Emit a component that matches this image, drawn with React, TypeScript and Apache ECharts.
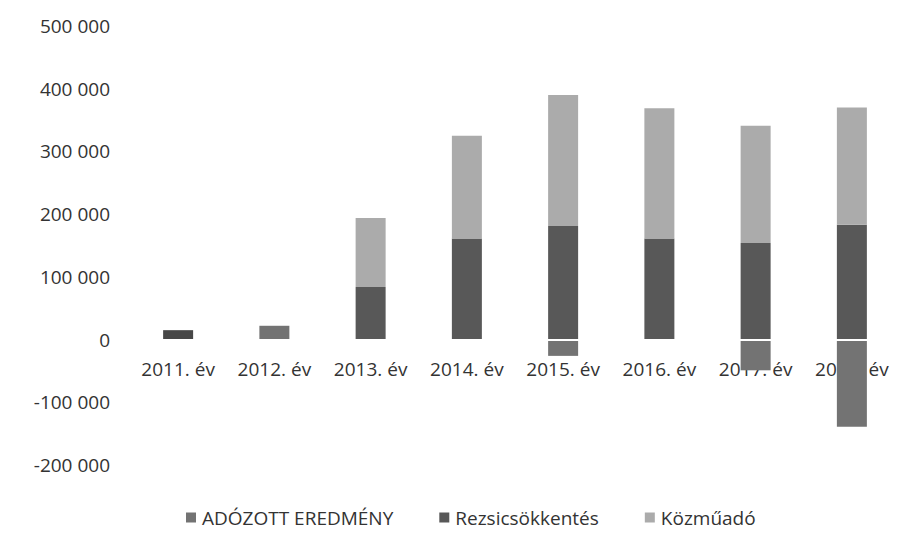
import React, { useEffect, useRef } from "react";
import * as echarts from "echarts";

const categories = ["2011. év", "2012. év", "2013. év", "2014. év", "2015. év", "2016. év", "2017. év", "2018. év"];
const adozottEredmeny = [15000, 22000, 0, 0, -26000, 0, -49000, -139000];
const rezsicsokkentes = [0, 0, 84000, 161000, 181000, 161000, 154000, 183000];
const kozmuado = [0, 0, 110000, 164000, 209000, 208000, 187000, 187000];
const yTicks = { min: -200000, max: 500000, interval: 100000 };

const FONT = "'Open Sans', 'Noto Sans', sans-serif";
const TEXT = "#333333";
const GRID_TOP = 26;
const GRID_BOTTOM = 79;
const CHART_H = 544;

function fmt(v: number): string {
  const s = Math.abs(v).toString().replace(/\B(?=(\d{3})+(?!\d))/g, " ");
  return (v < 0 ? "-" : "") + s;
}

export default function App() {
  const ref = useRef<HTMLDivElement>(null);
  useEffect(() => {
    if (!ref.current) return;
    const chart = echarts.init(ref.current, undefined, { renderer: "svg" });
    // place the category axis on the zero line of the value axis
    const plotH = CHART_H - GRID_TOP - GRID_BOTTOM;
    const zeroFromBottom = ((0 - yTicks.min) / (yTicks.max - yTicks.min)) * plotH;
    chart.setOption({
      animation: false,
      backgroundColor: "#ffffff",
      textStyle: { fontFamily: FONT },
      grid: { left: 130, right: 16, top: GRID_TOP, bottom: GRID_BOTTOM, containLabel: false },
      legend: {
        left: 181,
        top: 503,
        itemWidth: 10,
        itemHeight: 10,
        itemGap: 46,
        icon: "rect",
        textStyle: { fontFamily: FONT, fontSize: 19, color: TEXT, padding: [0, 0, 0, 1] },
        data: ["ADÓZOTT EREDMÉNY", "Rezsicsökkentés", "Közműadó"],
      },
      xAxis: {
        type: "category",
        data: categories,
        offset: -zeroFromBottom,
        axisLine: { show: false, onZero: false },
        axisTick: { show: false },
        axisLabel: { fontFamily: FONT, fontSize: 19, color: TEXT, margin: 20, interval: 0 },
        z: 0,
      },
      yAxis: {
        type: "value",
        min: yTicks.min,
        max: yTicks.max,
        interval: yTicks.interval,
        axisLine: { show: false },
        axisTick: { show: false },
        splitLine: { show: false },
        axisLabel: {
          fontFamily: FONT,
          fontSize: 19,
          color: TEXT,
          margin: 20,
          formatter: (v: number) => fmt(v),
        },
      },
      series: [
        {
          name: "ADÓZOTT EREDMÉNY",
          type: "bar",
          stack: "total",
          barWidth: 30,
          itemStyle: { color: "#737373" },
          data: adozottEredmeny.map((v, i) => (i === 0 ? { value: v, itemStyle: { color: "#474747" } } : v)),
        },
        {
          name: "Rezsicsökkentés",
          type: "bar",
          stack: "total",
          barWidth: 30,
          itemStyle: { color: "#585858" },
          data: rezsicsokkentes,
        },
        {
          name: "Közműadó",
          type: "bar",
          stack: "total",
          barWidth: 30,
          itemStyle: { color: "#ababab" },
          data: kozmuado,
          markLine: {
            silent: true,
            symbol: "none",
            label: { show: false },
            lineStyle: { color: "#ffffff", width: 2, type: "solid" },
            data: [{ yAxis: 0 }],
            z: 10,
          },
        },
      ],
    });
    return () => chart.dispose();
  }, []);
  return <div ref={ref} style={{ position: "fixed", left: 0, top: 0, width: 916, height: 544 }} />;
}
